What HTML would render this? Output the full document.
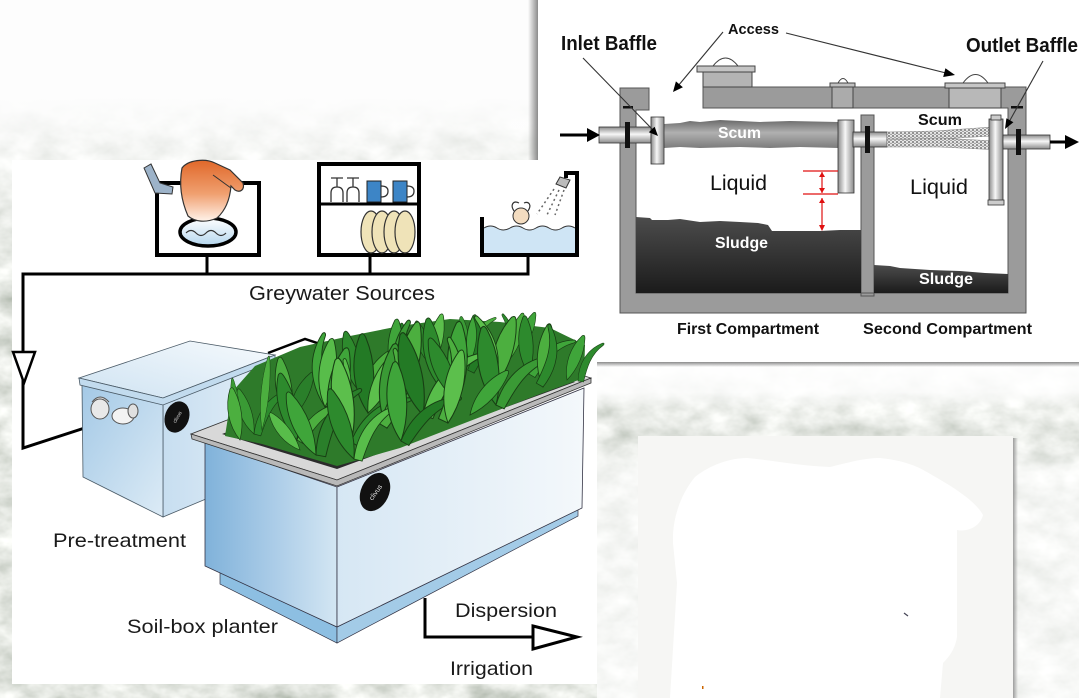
<!DOCTYPE html>
<html><head><meta charset="utf-8"><style>
html,body{margin:0;padding:0;background:#fff;}
svg{display:block;}
text{font-family:"Liberation Sans",Arial,sans-serif;}
</style></head><body>
<svg width="1079" height="698" viewBox="0 0 1079 698" xmlns="http://www.w3.org/2000/svg">
<defs>
<filter id="noise" x="0" y="0" width="1" height="1">
<feTurbulence type="fractalNoise" baseFrequency="0.03 0.045" numOctaves="4" seed="7"/>
<feColorMatrix type="matrix" values="0.8 0 0 0 0.38  0.75 0 0 0 0.43  0.8 0 0 0 0.36  0 0 0 0 1"/>
</filter>
<linearGradient id="topFade" x1="0" y1="0" x2="0" y2="1">
<stop offset="0" stop-color="#fdfdfd" stop-opacity="1"/>
<stop offset="0.14" stop-color="#fdfdfd" stop-opacity="1"/>
<stop offset="0.25" stop-color="#fdfdfd" stop-opacity="0.5"/>
<stop offset="0.4" stop-color="#fdfdfd" stop-opacity="0.05"/>
<stop offset="1" stop-color="#fdfdfd" stop-opacity="0"/>
</linearGradient>
<linearGradient id="rightFade" x1="0" y1="0" x2="0" y2="1">
<stop offset="0" stop-color="#ffffff" stop-opacity="0.97"/>
<stop offset="0.09" stop-color="#ffffff" stop-opacity="0.85"/>
<stop offset="0.14" stop-color="#ffffff" stop-opacity="0.25"/>
<stop offset="0.24" stop-color="#ffffff" stop-opacity="0.25"/>
<stop offset="0.33" stop-color="#ffffff" stop-opacity="0.65"/>
<stop offset="1" stop-color="#ffffff" stop-opacity="0.7"/>
</linearGradient>
<linearGradient id="shL" x1="0" y1="0" x2="1" y2="0">
<stop offset="0" stop-color="#777" stop-opacity="0"/>
<stop offset="1" stop-color="#777" stop-opacity="0.85"/>
</linearGradient>
<linearGradient id="shB" x1="0" y1="0" x2="0" y2="1">
<stop offset="0" stop-color="#777" stop-opacity="0.85"/>
<stop offset="1" stop-color="#777" stop-opacity="0"/>
</linearGradient>
<linearGradient id="shR" x1="0" y1="0" x2="1" y2="0">
<stop offset="0" stop-color="#888" stop-opacity="0.8"/>
<stop offset="1" stop-color="#888" stop-opacity="0"/>
</linearGradient>
<linearGradient id="pipeV" x1="0" y1="0" x2="0" y2="1">
<stop offset="0" stop-color="#8a8a8a"/><stop offset="0.45" stop-color="#f7f7f7"/><stop offset="1" stop-color="#8a8a8a"/>
</linearGradient>
<linearGradient id="pipeH" x1="0" y1="0" x2="1" y2="0">
<stop offset="0" stop-color="#8a8a8a"/><stop offset="0.45" stop-color="#f7f7f7"/><stop offset="1" stop-color="#8a8a8a"/>
</linearGradient>
<linearGradient id="scumG" x1="0" y1="0" x2="0" y2="1">
<stop offset="0" stop-color="#6a6a6a"/><stop offset="0.45" stop-color="#b0b0b0"/><stop offset="1" stop-color="#7c7c7c"/>
</linearGradient>
<linearGradient id="sludgeG" x1="0" y1="0" x2="0" y2="1">
<stop offset="0" stop-color="#4c4c4c"/><stop offset="1" stop-color="#1b1b1b"/>
</linearGradient>
<pattern id="mesh" width="4" height="3" patternUnits="userSpaceOnUse">
<rect width="4" height="3" fill="#e8e8e8"/>
<circle cx="1" cy="1" r="1" fill="#777"/><circle cx="3" cy="2.5" r="0.9" fill="#999"/>
</pattern>
<linearGradient id="shirtG" x1="0" y1="0" x2="0" y2="1">
<stop offset="0" stop-color="#e0682a"/><stop offset="0.55" stop-color="#f0a070"/><stop offset="1" stop-color="#fff3ea"/>
</linearGradient>
<linearGradient id="basinG" x1="0" y1="0" x2="0" y2="1">
<stop offset="0" stop-color="#ffffff"/><stop offset="1" stop-color="#b4d6ee"/>
</linearGradient>
<linearGradient id="ptLeft" x1="0" y1="0" x2="1" y2="1">
<stop offset="0" stop-color="#a4c9e6"/><stop offset="1" stop-color="#dcebf6"/>
</linearGradient>
<linearGradient id="ptRight" x1="0" y1="0" x2="1" y2="0">
<stop offset="0" stop-color="#c7def0"/><stop offset="1" stop-color="#e4eff8"/>
</linearGradient>
<linearGradient id="ptTop" x1="0" y1="1" x2="1" y2="0">
<stop offset="0" stop-color="#cfe3f2"/><stop offset="1" stop-color="#f6fafd"/>
</linearGradient>
<linearGradient id="plLeft" x1="0" y1="0" x2="1" y2="0">
<stop offset="0" stop-color="#80b2da"/><stop offset="0.5" stop-color="#a9cbe7"/><stop offset="1" stop-color="#d3e6f3"/>
</linearGradient>
<linearGradient id="plRight" x1="0" y1="0" x2="1" y2="0">
<stop offset="0" stop-color="#d6e7f4"/><stop offset="1" stop-color="#f4f8fb"/>
</linearGradient>
<path id="L1" d="M0 0 C-9 -16 -9 -36 -1 -52 C1 -54 2 -53 3 -50 C8 -34 7 -16 0 0Z"/>
<path id="L2" d="M0 0 C-3 -20 3 -40 22 -52 C24 -53 25 -51 23 -49 C10 -36 8 -18 7 0Z"/>
</defs>

<!-- background -->
<rect x="0" y="0" width="1079" height="698" fill="#fbfbfa"/>
<rect x="0" y="0" width="1079" height="698" filter="url(#noise)"/>
<rect x="0" y="0" width="600" height="698" fill="url(#topFade)"/>
<rect x="597" y="362" width="482" height="336" fill="url(#rightFade)"/>
<rect x="0" y="0" width="1079" height="95" fill="#fdfdfd"/>

<!-- bottom-right box -->
<rect x="638" y="436" width="375" height="262" fill="#f6f6f4"/>
<rect x="1013" y="438" width="5" height="260" fill="url(#shR)"/>
<path d="M695 477 C710 465 730 458 747 458 C770 460 800 466 830 467 C850 462 865 458 880 458 C900 460 915 465 925 471 C950 485 975 500 983 515 C980 528 965 532 957 530 L957 637 C955 650 948 658 943 663 L940 698 L670 698 L677 583 L673 543 C672 520 680 495 695 477Z" fill="#ffffff"/>
<path d="M904 613 l4 3" stroke="#445" stroke-width="1.2"/>
<rect x="702" y="686" width="1.5" height="3" fill="#c60"/>

<!-- RIGHT PANEL (septic tank) -->
<rect x="528" y="0" width="10" height="160" fill="url(#shL)"/>
<rect x="538" y="0" width="541" height="362" fill="#ffffff"/>
<rect x="597" y="362" width="482" height="5" fill="url(#shB)"/>

<!-- tank structure -->
<g fill="#9b9b9b">
<rect x="620" y="88" width="29" height="22"/>
<rect x="620" y="88" width="16" height="225"/>
<rect x="620" y="293" width="406" height="20"/>
<rect x="1008" y="87" width="18" height="226"/>
<rect x="703" y="87" width="323" height="21"/>
<rect x="861" y="115" width="13" height="181"/>
</g>
<g fill="none" stroke="#555" stroke-width="1">
<path d="M636 293 V110 H649 V88 H620 V313 H1026 V87 H703 V108 H1008 V293 Z"/>
<rect x="861" y="115" width="13" height="181"/>
</g>
<rect x="623" y="106" width="10" height="2.5" fill="#111"/>
<rect x="1011" y="106" width="12" height="2.5" fill="#111"/>

<!-- lids -->
<path d="M713 66 Q725.5 50 738 66" fill="#fff" stroke="#444"/>
<rect x="703" y="72" width="49" height="15" fill="#b4b4b4" stroke="#444"/>
<rect x="697" y="66" width="58" height="6" fill="#c4c4c4" stroke="#444"/>
<path d="M838 83 Q843 74 848 83" fill="#fff" stroke="#444"/>
<rect x="832" y="86" width="21" height="22" fill="#ababab" stroke="#444"/>
<rect x="830" y="83" width="25" height="4" fill="#c0c0c0" stroke="#444"/>
<path d="M963 83 Q975.5 66 988 83" fill="#fff" stroke="#444"/>
<rect x="949" y="88" width="52" height="20" fill="#b8b8b8" stroke="#444"/>
<rect x="945" y="83" width="60" height="5" fill="#c6c6c6" stroke="#444"/>

<!-- sludge -->
<path d="M636 217 L650 218 L652 220 L668 220 L680 219 L700 222 L720 221 L740 222 L758 223 L768 225 L772 231 L820 231 L840 230 L861 230 L861 293 L636 293Z" fill="url(#sludgeG)"/>
<path d="M874 265 L890 266 L900 268 L930 270 L960 271 L985 273 L1008 274 L1008 293 L874 293Z" fill="url(#sludgeG)"/>

<!-- scum -->
<path d="M664 124 L680 123 L690 121 L700 122 L720 120 L740 121 L760 122 L790 121 L838 122 L838 148 L800 147 L770 148 L740 147 L700 148 L680 147 L664 148Z" fill="url(#scumG)"/>

<!-- pipes and baffles -->
<rect x="599" y="127" width="52" height="16" fill="url(#pipeV)" stroke="#333" stroke-width="0.8"/>
<rect x="625" y="122" width="5" height="26" fill="#111"/>
<rect x="651" y="117" width="13" height="47" fill="url(#pipeH)" stroke="#333" stroke-width="0.8"/>
<rect x="838" y="120" width="16" height="73" fill="url(#pipeH)" stroke="#333" stroke-width="0.8"/>
<rect x="853" y="132" width="34" height="15" fill="url(#pipeV)" stroke="#333" stroke-width="0.8"/>
<rect x="865" y="126" width="5" height="27" fill="#111"/>
<path d="M887 132 L935 131 L992 127 L992 136 L940 139 L887 139Z" fill="url(#mesh)" stroke="#888" stroke-width="0.5"/>
<path d="M887 140 L940 138 L995 141 L1000 150 L940 147 L887 147Z" fill="url(#mesh)" stroke="#888" stroke-width="0.5"/>
<rect x="989" y="119" width="14" height="82" fill="url(#pipeH)" stroke="#333" stroke-width="0.8"/>
<rect x="991" y="115" width="10" height="5" fill="#ccc" stroke="#333" stroke-width="0.8"/>
<rect x="988" y="200" width="16" height="5" fill="#ccc" stroke="#333" stroke-width="0.8"/>
<rect x="1003" y="135" width="47" height="14" fill="url(#pipeV)" stroke="#333" stroke-width="0.8"/>
<rect x="1016" y="129" width="5" height="26" fill="#111"/>

<!-- flow arrows -->
<line x1="560" y1="135" x2="590" y2="135" stroke="#000" stroke-width="3"/>
<polygon points="587,128 600,135 587,142" fill="#000"/>
<line x1="1050" y1="142" x2="1068" y2="142" stroke="#000" stroke-width="3"/>
<polygon points="1065,135 1079,142 1065,149" fill="#000"/>

<!-- red dimension marks -->
<g stroke="#e01010" stroke-width="1.2" fill="#e01010">
<line x1="803" y1="171" x2="838" y2="171"/>
<line x1="803" y1="194" x2="838" y2="194"/>
<line x1="822" y1="172" x2="822" y2="193"/>
<line x1="822" y1="198" x2="822" y2="230"/>
<polygon points="819,177 822,172 825,177" stroke="none"/>
<polygon points="819,188 822,193 825,188" stroke="none"/>
<polygon points="819,203 822,198 825,203" stroke="none"/>
<polygon points="819,225 822,231 825,225" stroke="none"/>
</g>

<!-- pointer lines -->
<g stroke="#333" stroke-width="1.1">
<line x1="583" y1="58" x2="653" y2="130"/>
<line x1="723" y1="32" x2="678" y2="86"/>
<line x1="786" y1="33" x2="946" y2="73"/>
<line x1="1043" y1="61" x2="1009" y2="122"/>
</g>
<polygon points="658,136 648.8,132.3 654.6,126.7" fill="#000"/>
<polygon points="673,92 682.9,87.2 675.9,81.4" fill="#000"/>
<polygon points="955,75 943.2,77 945.4,68.2" fill="#000"/>
<polygon points="1005,129 1013.4,122.3 1006.4,118.3" fill="#000"/>

<!-- septic labels -->
<g font-weight="bold" fill="#111">
<text x="561" y="50" font-size="20" textLength="96" lengthAdjust="spacingAndGlyphs">Inlet Baffle</text>
<text x="728" y="34" font-size="15" textLength="51" lengthAdjust="spacingAndGlyphs">Access</text>
<text x="966" y="52" font-size="20" textLength="112" lengthAdjust="spacingAndGlyphs">Outlet Baffle</text>
<text x="918" y="125" font-size="16" textLength="44" lengthAdjust="spacingAndGlyphs">Scum</text>
<text x="677" y="334" font-size="15.5" textLength="142" lengthAdjust="spacingAndGlyphs">First Compartment</text>
<text x="863" y="334" font-size="15.5" textLength="169" lengthAdjust="spacingAndGlyphs">Second Compartment</text>
</g>
<g font-weight="bold" fill="#fff">
<text x="718" y="138" font-size="16" textLength="43" lengthAdjust="spacingAndGlyphs">Scum</text>
<text x="715" y="248" font-size="16" textLength="53" lengthAdjust="spacingAndGlyphs">Sludge</text>
<text x="919" y="284" font-size="16" textLength="54" lengthAdjust="spacingAndGlyphs">Sludge</text>
</g>
<text x="710" y="190" font-size="21" fill="#111" textLength="57" lengthAdjust="spacingAndGlyphs">Liquid</text>
<text x="910" y="194" font-size="21" fill="#111" textLength="58" lengthAdjust="spacingAndGlyphs">Liquid</text>

<!-- LEFT PANEL -->
<rect x="12" y="160" width="585" height="524" fill="#ffffff"/>

<!-- pipes -->
<polyline points="528,255 528,274 23,274 23,448 100,423" fill="none" stroke="#000" stroke-width="3" stroke-linejoin="miter"/>
<line x1="207" y1="255" x2="207" y2="274" stroke="#000" stroke-width="3"/>
<line x1="370" y1="255" x2="370" y2="274" stroke="#000" stroke-width="3"/>
<polygon points="13,352 35,352 24,383" fill="#fff" stroke="#000" stroke-width="2.5" stroke-linejoin="miter"/>

<!-- washing -->
<rect x="157" y="183" width="102" height="72" fill="none" stroke="#000" stroke-width="4"/>
<ellipse cx="208" cy="232" rx="28" ry="14" fill="url(#basinG)" stroke="#000" stroke-width="3.5"/>
<path d="M186 233 q5 -5 10 0 t10 0 t10 0 t10 0" fill="none" stroke="#333" stroke-width="1.2"/>
<path d="M182 168 C188 160 205 158 215 163 L230 170 L243 183 C245 190 240 193 235 190 L231 186 C230 198 226 210 217 218 C206 223 195 222 188 216 C181 200 179 184 182 168Z" fill="url(#shirtG)" stroke="#333" stroke-width="1.2"/>
<path d="M213 175 C220 180 228 186 231 188" fill="none" stroke="#333" stroke-width="1"/>
<path d="M144 168 L151 164 L160 183 L173 187 L172 194 L155 193 Z" fill="#9db3c9" stroke="#333" stroke-width="1"/>

<!-- dishes -->
<rect x="319" y="164" width="100" height="91" fill="none" stroke="#000" stroke-width="4"/>
<line x1="319" y1="204" x2="419" y2="204" stroke="#000" stroke-width="3"/>
<g fill="none" stroke="#333" stroke-width="1.3">
<path d="M331 178 H343 M337 178 V187 M331 202 V193 Q331 187 337 187 Q343 187 343 193 V202"/>
<path d="M347 178 H359 M353 178 V187 M347 202 V193 Q347 187 353 187 Q359 187 359 193 V202"/>
<path d="M381 186 q7 0 7 5 q0 6 -7 6"/>
<path d="M407 186 q7 0 7 5 q0 6 -7 6"/>
</g>
<rect x="367" y="181" width="14" height="21" fill="#3d85c6" stroke="#222" stroke-width="1"/>
<rect x="393" y="181" width="14" height="21" fill="#3d85c6" stroke="#222" stroke-width="1"/>
<g fill="#efe3b8" stroke="#333" stroke-width="1.2">
<ellipse cx="371" cy="232" rx="10" ry="21"/>
<ellipse cx="382" cy="232" rx="10" ry="21"/>
<ellipse cx="394" cy="232" rx="10" ry="21"/>
<ellipse cx="405" cy="232" rx="10" ry="21"/>
</g>

<!-- bath -->
<path d="M484 228 q6.5 -4 13 0 t13 0 t13 0 t13 0 t13 0 t13 0 t13 0 V253 H484Z" fill="#cfe5f5" stroke="none"/>
<path d="M484 228 q6.5 -4 13 0 t13 0 t13 0 t13 0 t13 0 t13 0 t13 0" fill="none" stroke="#333" stroke-width="1"/>
<circle cx="521" cy="216" r="8" fill="#f3dcc0" stroke="#333" stroke-width="1"/>
<path d="M514 211 C510 205 513 200 519 203 M528 211 C532 205 529 201 524 203" fill="none" stroke="#333" stroke-width="1.2"/>
<path d="M482 217 V255 H577 V173 H566 V178" fill="none" stroke="#000" stroke-width="4"/>
<polygon points="560,177 570,180 566,188 556,184" fill="#bbb" stroke="#333" stroke-width="1"/>
<g stroke="#666" stroke-width="1.5" stroke-dasharray="2 3">
<line x1="554" y1="189" x2="537" y2="214"/>
<line x1="559" y1="190" x2="546" y2="217"/>
<line x1="564" y1="190" x2="555" y2="215"/>
</g>

<text x="249" y="300" font-size="20" fill="#1a1a1a" textLength="186" lengthAdjust="spacingAndGlyphs">Greywater Sources</text>

<!-- connector pretreatment to planter -->
<polyline points="268,353 305,339 368,360" fill="none" stroke="#000" stroke-width="2.5"/>

<!-- pre-treatment box -->
<polygon points="163,404 275,360 275,470 163,517" fill="url(#ptRight)" stroke="#4a5a66" stroke-width="0.8"/>
<polygon points="82,385 163,404 163,517 83,477" fill="url(#ptLeft)" stroke="#4a5a66" stroke-width="0.8"/>
<polygon points="79,378 190,341 275,355 163,398" fill="url(#ptTop)" stroke="#4a5a66" stroke-width="0.8"/>
<polygon points="79,378 163,398 275,355 275,361 163,405 80,385" fill="#c2dbee" stroke="#4a5a66" stroke-width="0.8"/>
<path d="M92 402 q8 -10 17 0" fill="#ddd" stroke="#555"/>
<ellipse cx="100" cy="409" rx="9" ry="10" fill="#e8e8e8" stroke="#555"/>
<ellipse cx="123" cy="416" rx="11" ry="8" fill="#f3f3f3" stroke="#555"/>
<ellipse cx="133" cy="411" rx="5" ry="7" fill="#e0e0e0" stroke="#555"/>
<ellipse cx="177" cy="417" rx="12" ry="16" transform="rotate(20 177 417)" fill="#111"/>
<text x="177" y="419" font-size="5" fill="#ddd" text-anchor="middle" transform="rotate(-60 177 417)">clivus</text>

<!-- planter -->
<polygon points="220,572 337,627 337,643 220,584" fill="#8dbfe2" stroke="#334" stroke-width="0.7"/>
<polygon points="337,627 578,508 578,516 337,643" fill="#a3cbe7" stroke="#334" stroke-width="0.7"/>
<polygon points="205,442 337,487 337,627 205,566" fill="url(#plLeft)" stroke="#334" stroke-width="0.8"/>
<polygon points="337,487 584,388 582,508 337,627" fill="url(#plRight)" stroke="#334" stroke-width="0.8"/>
<polygon points="191,434 337,480 591,378 450,334" fill="#d8d8d8" stroke="#333" stroke-width="0.8"/>
<polygon points="191,434 337,480 591,378 591,383 337,486 192,439" fill="#b9b9b9" stroke="#333" stroke-width="0.8"/>
<polygon points="222,434 337,469 575,382 460,345" fill="#2b2b2b"/>
<ellipse cx="375" cy="492" rx="14" ry="20" transform="rotate(25 375 492)" fill="#111"/>
<text x="375" y="495" font-size="7" fill="#ddd" text-anchor="middle" transform="rotate(-55 375 492)">clivus</text>

<!-- plants -->
<polygon points="225,436 232,392 255,366 300,347 350,336 400,326 450,319 500,322 550,328 585,345 584,378 540,394 470,421 400,448 337,466 262,444" fill="#2e7a2a"/>
<g stroke="#183f14" stroke-width="0.7">
<use href="#L1" transform="translate(254 434) rotate(-20) scale(0.9)" fill="#3a9a35"/>
<use href="#L2" transform="translate(254 434) rotate(15) scale(1)" fill="#2d8a2d"/>
<use href="#L1" transform="translate(290 420) rotate(-10) scale(1.2)" fill="#4cae40"/>
<use href="#L1" transform="translate(290 420) rotate(25) scale(1)" fill="#2a7f2a"/>
<use href="#L2" transform="translate(325 407) rotate(-25) scale(1.3)" fill="#3fa53a"/>
<use href="#L1" transform="translate(325 407) rotate(5) scale(1.3)" fill="#58bd4a"/>
<use href="#L1" transform="translate(361 393) rotate(-15) scale(1.2)" fill="#2d8a2d"/>
<use href="#L2" transform="translate(361 393) rotate(20) scale(1.2)" fill="#4caf3f"/>
<use href="#L1" transform="translate(396 380) rotate(0) scale(1.15)" fill="#3fa53a"/>
<use href="#L2" transform="translate(396 380) rotate(30) scale(-1 1)" fill="#237a25"/>
<use href="#L1" transform="translate(432 366) rotate(10) scale(1)" fill="#5cbf4c"/>
<use href="#L1" transform="translate(432 366) rotate(-20) scale(0.9)" fill="#2d8a2d"/>
<use href="#L2" transform="translate(467 353) rotate(15) scale(0.8)" fill="#4caf3f"/>
<use href="#L1" transform="translate(467 353) rotate(-10) scale(0.7)" fill="#3a9a35"/>
<use href="#L1" transform="translate(520 352) rotate(20) scale(0.8)" fill="#3fa53a"/>
<use href="#L1" transform="translate(262 430) rotate(5) scale(0.6 1.4)" fill="#4caf3f"/>
<use href="#L1" transform="translate(240 436) rotate(-8) scale(0.6 1.1)" fill="#3a9a35"/>

<use href="#L1" transform="translate(297 440) rotate(-15) scale(1.3)" fill="#2d8a2d"/>
<use href="#L2" transform="translate(297 440) rotate(30) scale(1.1)" fill="#4caf3f"/>
<use href="#L1" transform="translate(332 426) rotate(10) scale(1.5)" fill="#3fa53a"/>
<use href="#L2" transform="translate(332 426) rotate(35) scale(-1.2 1.2)" fill="#58bd4a"/>
<use href="#L1" transform="translate(368 413) rotate(-5) scale(1.5)" fill="#237a25"/>
<use href="#L1" transform="translate(368 413) rotate(25) scale(1.3)" fill="#5cbf4c"/>
<use href="#L2" transform="translate(403 400) rotate(-20) scale(1.4)" fill="#3a9a35"/>
<use href="#L1" transform="translate(403 400) rotate(10) scale(1.5)" fill="#4caf3f"/>
<use href="#L1" transform="translate(439 386) rotate(-10) scale(1.3)" fill="#2d8a2d"/>
<use href="#L2" transform="translate(439 386) rotate(30) scale(1.2)" fill="#58bd4a"/>
<use href="#L1" transform="translate(474 373) rotate(0) scale(1.1)" fill="#3fa53a"/>
<use href="#L2" transform="translate(474 373) rotate(25) scale(-1 1)" fill="#237a25"/>
<use href="#L1" transform="translate(510 359) rotate(15) scale(0.9)" fill="#4caf3f"/>
<use href="#L2" transform="translate(510 359) rotate(15) scale(-0.8 0.8)" fill="#2d8a2d"/>

<use href="#L1" transform="translate(316 455) rotate(-25) scale(1.3)" fill="#3fa53a"/>
<use href="#L2" transform="translate(316 455) rotate(10) scale(1.4)" fill="#2a7f2a"/>
<use href="#L1" transform="translate(351 442) rotate(-10) scale(1.6)" fill="#5cbf4c"/>
<use href="#L2" transform="translate(351 442) rotate(30) scale(1.3)" fill="#2d8a2d"/>
<use href="#L1" transform="translate(387 428) rotate(5) scale(1.6)" fill="#3a9a35"/>
<use href="#L2" transform="translate(387 428) rotate(30) scale(-1.4 1.4)" fill="#4caf3f"/>
<use href="#L1" transform="translate(423 415) rotate(-15) scale(1.6)" fill="#237a25"/>
<use href="#L2" transform="translate(423 415) rotate(20) scale(1.5)" fill="#58bd4a"/>
<use href="#L1" transform="translate(458 401) rotate(0) scale(1.5)" fill="#3fa53a"/>
<use href="#L1" transform="translate(458 401) rotate(-25) scale(1.3)" fill="#2d8a2d"/>
<use href="#L1" transform="translate(494 388) rotate(15) scale(1.4)" fill="#4caf3f"/>
<use href="#L2" transform="translate(494 388) rotate(10) scale(-1.3 1.3)" fill="#5cbf4c"/>
<use href="#L1" transform="translate(529 374) rotate(-5) scale(1.1)" fill="#2d8a2d"/>
<use href="#L2" transform="translate(529 374) rotate(30) scale(1)" fill="#3fa53a"/>

<use href="#L1" transform="translate(240 440) rotate(-10) scale(1)" fill="#4caf3f"/>
<use href="#L1" transform="translate(354 459) rotate(-20) scale(1.4)" fill="#2d8a2d"/>
<use href="#L2" transform="translate(354 459) rotate(15) scale(1.2)" fill="#58bd4a"/>
<use href="#L1" transform="translate(401 441) rotate(-5) scale(1.5)" fill="#3fa53a"/>
<use href="#L2" transform="translate(401 441) rotate(30) scale(1.3)" fill="#237a25"/>
<use href="#L2" transform="translate(448 423) rotate(25) scale(-1.5 1.5)" fill="#4caf3f"/>
<use href="#L1" transform="translate(448 423) rotate(10) scale(1.4)" fill="#5cbf4c"/>
<use href="#L1" transform="translate(496 405) rotate(-10) scale(1.5)" fill="#2d8a2d"/>
<use href="#L2" transform="translate(496 405) rotate(25) scale(1.3)" fill="#3a9a35"/>
<use href="#L1" transform="translate(543 387) rotate(5) scale(1.2)" fill="#4caf3f"/>
<use href="#L2" transform="translate(543 387) rotate(30) scale(-1.1 1.1)" fill="#2d8a2d"/>
<use href="#L1" transform="translate(567 380) rotate(20) scale(0.9)" fill="#3fa53a"/>
<use href="#L2" transform="translate(578 381) rotate(10) scale(0.8)" fill="#2d8a2d"/>
<use href="#L1" transform="translate(300 450) rotate(-40) scale(0.9)" fill="#58bd4a"/>
<use href="#L1" transform="translate(470 415) rotate(40) scale(1.1)" fill="#3fa53a"/>
</g>

<!-- dispersion arrow -->
<path d="M425 598 V637 H533" fill="none" stroke="#000" stroke-width="3"/>
<polygon points="533,626 577,637 533,649" fill="#fff" stroke="#000" stroke-width="3" stroke-linejoin="miter"/>

<!-- left labels -->
<g fill="#1a1a1a" font-size="19.5">
<text x="53" y="547" textLength="133" lengthAdjust="spacingAndGlyphs">Pre-treatment</text>
<text x="127" y="633" textLength="151" lengthAdjust="spacingAndGlyphs">Soil-box planter</text>
<text x="455" y="617" textLength="102" lengthAdjust="spacingAndGlyphs">Dispersion</text>
<text x="450" y="675" textLength="83" lengthAdjust="spacingAndGlyphs">Irrigation</text>
</g>
</svg>
</body></html>
